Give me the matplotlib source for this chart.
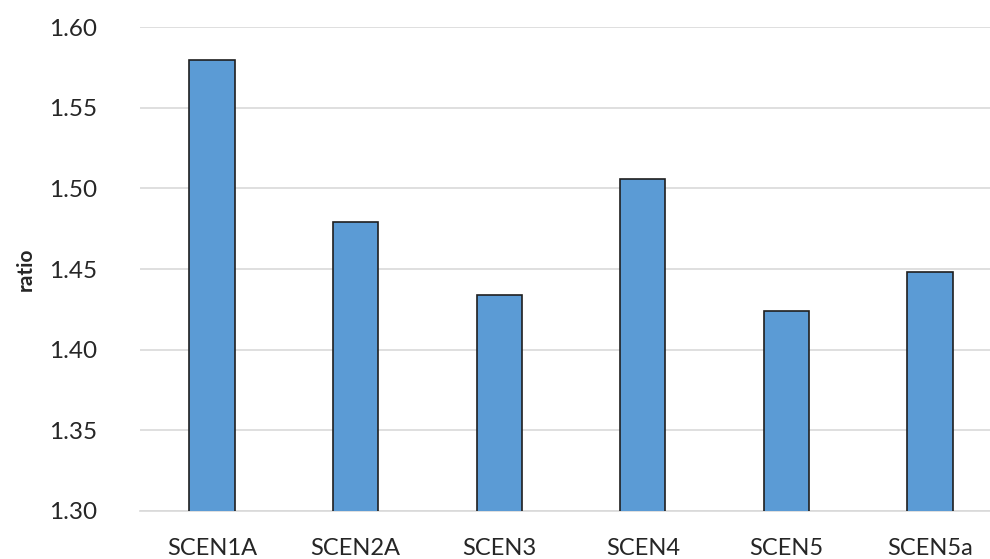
import matplotlib
matplotlib.use("Agg")
import matplotlib.pyplot as plt

categories = ["SCEN1A", "SCEN2A", "SCEN3", "SCEN4", "SCEN5", "SCEN5a"]
values = [1.580, 1.479, 1.434, 1.506, 1.424, 1.448]
yticks = [1.30, 1.35, 1.40, 1.45, 1.50, 1.55, 1.60]

plt.rcParams['font.family'] = ['Lato', 'DejaVu Sans']

fig = plt.figure(figsize=(9.9, 5.59), dpi=100)
ax = fig.add_axes([140.2 / 990, 1 - 510.7 / 559, (143.6 * 6) / 990, (510.7 - 27.3) / 559])

x = list(range(len(categories)))
ax.bar(x, values, width=0.315, color="#5B9BD5", edgecolor="#1f1f1f", linewidth=1.2, zorder=3)

ax.set_ylim(1.30, 1.60)
ax.set_xlim(-0.5, len(categories) - 0.5)
ax.set_yticks(yticks)
ax.set_yticklabels([f"{v:.2f}" for v in yticks], fontsize=17.5, color="#262626")
ax.set_xticks(x)
ax.set_xticklabels(categories, fontsize=17, color="#262626")
ax.tick_params(axis="both", length=0)
ax.tick_params(axis="y", pad=31)
ax.tick_params(axis="x", pad=20)

ax.grid(axis="y", color="#d9d9d9", linewidth=1.2, zorder=0)
for s in ["top", "right", "left"]:
    ax.spines[s].set_visible(False)
ax.spines["bottom"].set_color("#d9d9d9")
ax.spines["bottom"].set_linewidth(1.2)

ax.set_ylabel("ratio", fontsize=15, fontweight="bold", color="#262626")
ax.yaxis.set_label_coords(-104 / (143.6 * 6), 0.5)

fig.savefig("out.png", dpi=100)
